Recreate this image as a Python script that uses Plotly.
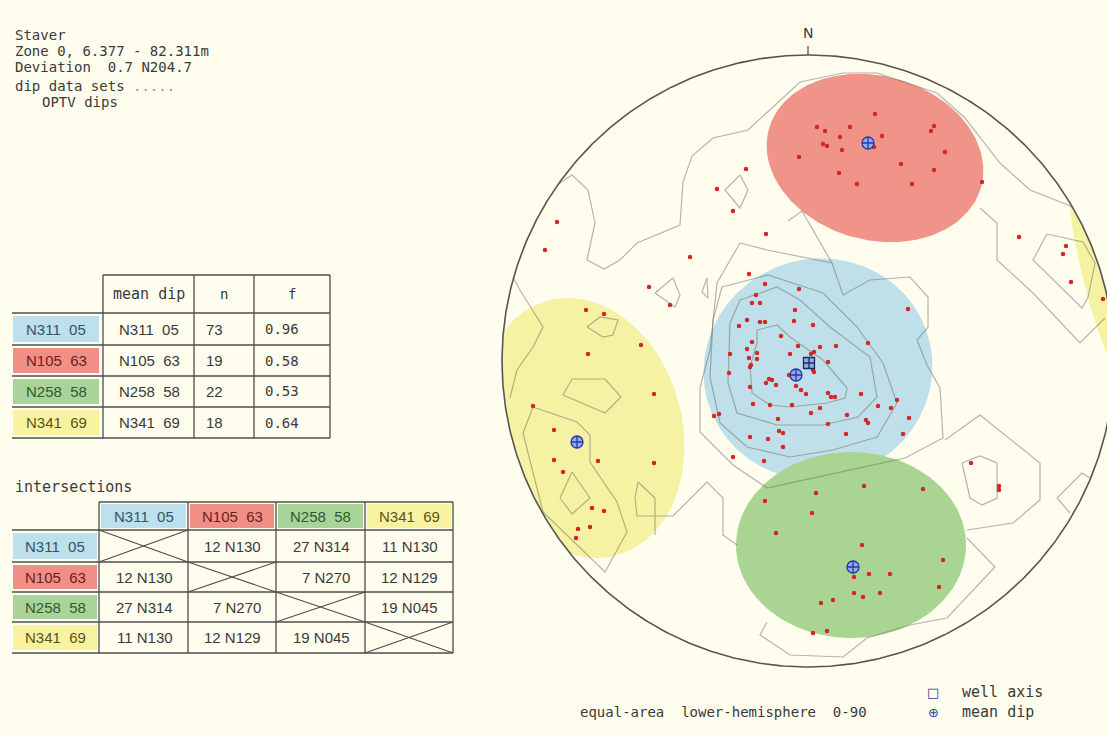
import numpy as np
import plotly.graph_objects as go

W, H = 1107, 735
BG = '#FEFDEE'
NET_R = 306          # net radius, in net coordinates (E, N)

# ---------------- data ----------------
# poles (E, N net coordinates, radius 306)
pole_e = [-251, -263, -91, -62, -75, -42, -118, -159, -138, 211, 258, 255, 263, 295,
          163, 191, 191, -75, -44, -94, -89,
          -9, 67, 9, 17, 42, 32, 15, 19, 34, 66, 74, 126, 123, 137, 93, 126, 31, 49, 104, 174,
          -59, -43, -9, -52, -56, -48, -13, -61, -69, -48, -43, -14, 5, 100, -27, -56, -10, 28,
          60, 12, -78, -61, -51, -59, -51, -18, 6, 3, 20, -58, -57, -79, -19, 5, 6, -39, -36,
          -42, -32, -58, -12, -7, -2, 20, 23, 27, 53, 89, -55, -38, -16, 12, 70, 83, 3, 39,
          101, -30, 58, 60, 20, -29, -25, 38, 95, -58, -40, -25,
          -222, -204, -167, -220, -154, -275, -254, -254, -210, -154, -245, -216, -204, -218,
          -230, -232,
          -43, -32, 56, 115, 8, 4, 54, 46, 61, 82, 135, 131, 46, 55, 72, 13, 25, 5, 19]
pole_n = [139, 111, 172, 192, 150, 127, 104, 74, 56, 124, 115, 107, 79, 62,
          -102, -125, -129, -96, -100, -55, -53,
          204, 247, 234, 230, 234, 224, 217, 215, 211, 214, 225, 235, 230, 209, 197, 191, 188,
          177, 177, 179,
          87, 77, 72, 66, 58, 58, 51, 41, 35, 39, 39, 40, 36, 52, 25, 19, 15, 15,
          18, 14, 7, 12, 8, 3, 2, 7, 9, 7, -1, -6, -4, -12, -14, -9, -11, -18, -19,
          -22, -24, -26, -25, -29, -33, -32, -36, -36, -33, -39, -43, -44, -44, -47, -45, -47,
          -52, -54, -57, -58, -59, -62, -63, -70, -72, -73, -73, -76, -78, -86,
          51, 47, 16, 7, -33, -45, -69, -99, -100, -102, -111, -147, -150, -166,
          -168, -177,
          -140, -172, -125, -128, -132, -152, -184, -216, -213, -213, -199, -226, -232, -236,
          -232, -242, -239, -272, -270]

# mean dips of the four sets, and the well axis
set_names = ['N311\u00a0\u00a005', 'N105\u00a0\u00a063', 'N258\u00a0\u00a058', 'N341\u00a0\u00a069']
mean_e = [-12, 60, 45, -231]
mean_n = [-14, 218, -206, -81]
well_e = [1]
well_n = [-2]
set_n = [73, 19, 22, 18]
set_f = ['0.96', '0.58', '0.53', '0.64']

# cones of confidence (ellipse approximations); last one is the antipodal part of set 4
cone_set = [0, 1, 2, 3, 3]
cone_e = [10, 67, 43, -226, 331]
cone_n = [-8, 203, -184, -67, 106]
cone_a = [115, 110, 115, 132, 200]
cone_b = [110, 82, 93, 100, 60]
cone_rot = [20, -15, 0, 105, -77]

# intersections (dip, azimuth)
inter_dip = [[None, 12, 27, 11], [12, None, 7, 12], [27, 7, None, 19], [11, 12, 19, None]]
inter_az = [[None, 130, 314, 130], [130, None, 270, 129], [314, 270, None, 45], [130, 129, 45, None]]

# density contours (E, N)
contours = [
    [(-251, 176), (-236, 186), (-220, 171), (-213, 138), (-221, 101), (-204, 92), (-188, 101),
     (-171, 118), (-128, 136), (-125, 179), (-116, 205), (-95, 223), (-60, 231), (-31, 258),
     (-8, 279), (35, 288), (69, 288), (129, 268), (157, 243), (192, 198), (222, 171), (265, 154)],
    [(-295, 84), (-288, 71), (-265, 34), (-275, 14), (-291, -9), (-298, -37)],
    [(-275, -46), (-285, -72), (-265, -151), (-203, -211), (-181, -171), (-191, -141),
     (-218, -101), (-218, -74), (-231, -61), (-275, -46)],
    [(-245, -34), (-236, -18), (-203, -18), (-187, -36), (-203, -52), (-245, -34)],
    [(-248, -137), (-236, -111), (-218, -137), (-236, -153), (-248, -137)],
    [(-153, -174), (-153, -137), (-170, -121), (-173, -137), (-171, -155), (-135, -155),
     (-101, -121), (-85, -137), (-85, -174), (-71, -184)],
    [(-221, 34), (-208, 44), (-190, 41), (-195, 26), (-205, 24), (-221, 34)],
    [(-68, 186), (-60, 171), (-68, 153), (-83, 171), (-68, 186)],
    [(-135, 83), (-128, 66), (-133, 54), (-153, 68), (-135, 83)],
    [(-101, 83), (-100, 63), (-106, 69), (-101, 83)],
    [(-68, 118), (-41, 111), (24, 98), (35, 66), (62, 81), (102, 84), (120, 64), (120, 34),
     (109, 21), (119, -4), (132, -27), (135, -77), (97, -97), (-41, -127), (-75, -104),
     (-108, -71), (-108, -27), (-98, 11), (-91, 78), (-68, 118)],
    [(-20, 140), (-6, 150), (24, 98)],
    [(172, 153), (189, 138), (189, 101), (225, 68), (272, 18), (297, 43)],
    [(239, 127), (275, 119), (287, 98), (280, 64), (274, 53), (225, 101), (239, 127)],
    [(154, -102), (172, -95), (189, -102), (189, -137), (174, -144), (162, -137), (154, -102)],
    [(137, -79), (172, -54), (232, -102), (232, -139), (205, -162), (159, -169)],
    [(282, -117), (274, -112), (249, -137), (262, -152)],
    [(159, -177), (187, -206), (139, -257), (102, -264), (59, -277), (35, -296), (-18, -294),
     (-48, -274), (-41, -261)],
    [(-51, 31), (-31, 36), (-18, 24), (15, 1), (39, -27), (37, -37), (19, -42), (-18, -46),
     (-38, -44), (-56, -32), (-58, -6), (-51, 18), (-51, 31)],
    [(-68, 61), (-31, 74), (-8, 61), (22, 34), (62, 4), (69, -36), (50, -56), (15, -64),
     (-31, -64), (-71, -52), (-80, -22), (-78, 38), (-68, 61)],
    [(-86, 74), (-40, 86), (15, 68), (49, 34), (75, -2), (89, -42), (69, -76), (25, -89),
     (-18, -96), (-61, -86), (-88, -62), (-98, -16), (-95, 41), (-86, 74)],
]

# ---------------- styles ----------------
cone_colors = ['#BFE0EA', '#F0948A', '#AAD492', '#F6F2A3']
cell_colors = ['#BDE0EC', '#F18F86', '#A9D499', '#F8F3A0']
cell_text = ['#2F5566', '#6A2020', '#2E5A2E', '#5A5418']
TXT = '#3A3A3A'
LINE = '#4C4C4C'
MONO = 'DejaVu Sans Mono'
NUM = 'Liberation Sans Narrow, Liberation Sans, Arial, sans-serif'

fig = go.Figure()

# cones
t = np.linspace(0, 2 * np.pi, 240)
for k in range(len(cone_e)):
    th = np.radians(cone_rot[k])
    ex = cone_a[k] * np.cos(t)
    ey = cone_b[k] * np.sin(t)
    x = cone_e[k] + ex * np.cos(th) - ey * np.sin(th)
    y = cone_n[k] + ex * np.sin(th) + ey * np.cos(th)
    r = np.hypot(x, y)
    s = np.minimum(1.0, NET_R / r)
    fig.add_trace(go.Scatter(x=x * s, y=y * s, mode='lines', fill='toself',
                             fillcolor=cone_colors[cone_set[k]], line=dict(width=0),
                             hoverinfo='skip', showlegend=False))

# contours
for c in contours:
    fig.add_trace(go.Scatter(x=[p[0] for p in c], y=[p[1] for p in c], mode='lines',
                             line=dict(color='rgba(110,110,100,0.5)', width=1.2),
                             hoverinfo='skip', showlegend=False))

# primitive circle and north tick
tc = np.linspace(0, 2 * np.pi, 721)
fig.add_trace(go.Scatter(x=NET_R * np.cos(tc), y=NET_R * np.sin(tc), mode='lines',
                         line=dict(color='#555555', width=1.6), hoverinfo='skip', showlegend=False))
fig.add_trace(go.Scatter(x=[0, 0], y=[NET_R, NET_R + 9], mode='lines',
                         line=dict(color='#555555', width=1.3), hoverinfo='skip', showlegend=False))

# poles
fig.add_trace(go.Scatter(x=pole_e, y=pole_n, mode='markers',
                         marker=dict(size=4.5, color='#D42828', line=dict(width=0)),
                         showlegend=False))
# well axis and mean dips
fig.add_trace(go.Scatter(x=well_e, y=well_n, mode='markers',
                         marker=dict(symbol='square-cross', size=11, color='#8FB0D8',
                                     line=dict(color='#1C2A66', width=1.3)), showlegend=False))
fig.add_trace(go.Scatter(x=mean_e, y=mean_n, mode='markers',
                         marker=dict(symbol='circle-cross', size=12, color='#92AAEC',
                                     line=dict(color='#2438A8', width=1.3)), showlegend=False))

# ---------------- tables & text (paper coordinates from layout pixels) ----------------
def PX(x):
    return x / W


def PY(y):
    return 1 - y / H


shapes = []
ann = []


def hline(x0, x1, y):
    shapes.append(dict(type='line', xref='paper', yref='paper', x0=PX(x0), x1=PX(x1),
                       y0=PY(y), y1=PY(y), line=dict(color=LINE, width=1.3)))


def vline(x, y0, y1):
    shapes.append(dict(type='line', xref='paper', yref='paper', x0=PX(x), x1=PX(x),
                       y0=PY(y0), y1=PY(y1), line=dict(color=LINE, width=1.3)))


def rect(x0, y0, x1, y1, color):
    shapes.append(dict(type='rect', xref='paper', yref='paper', x0=PX(x0), x1=PX(x1),
                       y0=PY(y1), y1=PY(y0), fillcolor=color, line=dict(width=0), layer='below'))


def text(x, y, s, anchor='left', font=MONO, size=14, color=TXT):
    ann.append(dict(xref='paper', yref='paper', x=PX(x), y=PY(y), text=s, showarrow=False,
                    xanchor=anchor, yanchor='middle', font=dict(family=font, size=size, color=color)))


# header text
text(13, 35, 'Staver')
text(13, 51, 'Zone 0, 6.377 - 82.311m')
text(13, 67, 'Deviation\u00a0\u00a00.7 N204.7')
text(13, 86, 'dip data sets <span style="color:#9a9a9a">.....</span>')
text(40, 102, 'OPTV dips')

# mean-dip table
c1 = [103, 194, 254, 330]
r1 = [275, 313, 345, 376, 407, 438]
hline(c1[0], c1[-1], r1[0])
for y in r1[1:]:
    hline(12, c1[-1], y)
for x in c1:
    vline(x, r1[0], r1[-1])
text((c1[0] + c1[1]) / 2, (r1[0] + r1[1]) / 2, 'mean\u00a0dip', anchor='center', size=15)
text((c1[1] + c1[2]) / 2, (r1[0] + r1[1]) / 2, 'n', anchor='center')
text((c1[2] + c1[3]) / 2, (r1[0] + r1[1]) / 2, 'f', anchor='center')
for i in range(4):
    y0, y1 = r1[i + 1], r1[i + 2]
    ym = (y0 + y1) / 2
    rect(13, y0 + 3, 99, y1 - 3, cell_colors[i])
    text(56, ym, set_names[i], anchor='center', font=NUM, size=15, color=cell_text[i])
    text(c1[0] + 14, ym, set_names[i], font=NUM, size=15)
    text(c1[1] + 10, ym, str(set_n[i]), font=NUM, size=15)
    text(c1[2] + 9, ym, set_f[i], size=14)

# intersections table
text(13, 487, 'intersections', size=15)
c2 = [99, 188, 276, 365, 453]
r2 = [502, 530, 562, 592, 622, 653]
hline(c2[0], c2[-1], r2[0])
for y in r2[1:]:
    hline(12, c2[-1], y)
for x in c2:
    vline(x, r2[0], r2[-1])
for j in range(4):
    x0, x1 = c2[j], c2[j + 1]
    rect(x0 + 2, r2[0] + 2, x1 - 2, r2[1] - 2, cell_colors[j])
    text((x0 + x1) / 2, (r2[0] + r2[1]) / 2, set_names[j], anchor='center', font=NUM,
         size=15, color=cell_text[j])
for i in range(4):
    y0, y1 = r2[i + 1], r2[i + 2]
    ym = (y0 + y1) / 2
    rect(13, y0 + 3, 97, y1 - 3, cell_colors[i])
    text(55, ym, set_names[i], anchor='center', font=NUM, size=15, color=cell_text[i])
    for j in range(4):
        x0, x1 = c2[j], c2[j + 1]
        if inter_dip[i][j] is None:
            shapes.append(dict(type='line', xref='paper', yref='paper', x0=PX(x0), x1=PX(x1),
                               y0=PY(y0), y1=PY(y1), line=dict(color=LINE, width=1.1)))
            shapes.append(dict(type='line', xref='paper', yref='paper', x0=PX(x0), x1=PX(x1),
                               y0=PY(y1), y1=PY(y0), line=dict(color=LINE, width=1.1)))
        else:
            s = f'{inter_dip[i][j]} N{inter_az[i][j]:03d}'
            text(x1 - 13, ym, s, anchor='right', font=NUM, size=15)

# stereonet labels and legend
text(808, 33, 'N', anchor='center', font='DejaVu Sans', size=14)
text(578, 712, 'equal-area\u00a0\u00a0lower-hemisphere\u00a0\u00a00-90')
text(933, 692, '\u25a1', anchor='center', font='DejaVu Sans', size=13, color='#2A3CA0')
text(933, 712, '\u2295', anchor='center', font='DejaVu Sans', size=13, color='#2A3CA0')
text(960, 692, 'well\u00a0axis', size=15)
text(960, 712, 'mean\u00a0dip', size=15)

x_lo, x_hi = -310, W - 808
y_lo, y_hi = -310, 320
fig.update_layout(
    width=W, height=H, autosize=False,
    margin=dict(l=0, r=0, t=0, b=0),
    paper_bgcolor=BG, plot_bgcolor='rgba(0,0,0,0)',
    shapes=shapes, annotations=ann,
    xaxis=dict(domain=[(808 + x_lo) / W, 1.0], range=[x_lo, x_hi], visible=False,
               showgrid=False, zeroline=False, fixedrange=True),
    yaxis=dict(domain=[(H - (361 - y_lo)) / H, (H - (361 - y_hi)) / H], range=[y_lo, y_hi],
               visible=False, showgrid=False, zeroline=False, fixedrange=True),
    hovermode=False,
)

fig.write_html('out.html', config={'displayModeBar': False},
               post_script="document.body.style.margin='0px';document.body.style.overflow='hidden';")
